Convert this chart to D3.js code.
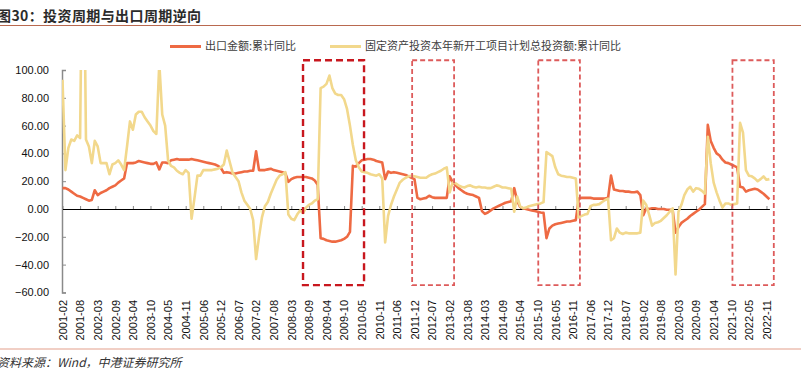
<!DOCTYPE html>
<html>
<head>
<meta charset="utf-8">
<script src="https://cdn.jsdelivr.net/npm/d3@7"></script>
<style>
  body { margin: 0; background: #fff; }
  svg { display: block; font-family: "Liberation Sans", Arial, sans-serif; }
</style>
</head>
<body>
<div id="chart"></div>
<script>
// Categories: Feb..Dec of each year (January is not published for cumulative data)
const years = [2001, 2002, 2003, 2004, 2005, 2006, 2007, 2008, 2009, 2010, 2011,
  2012, 2013, 2014, 2015, 2016, 2017, 2018, 2019, 2020, 2021, 2022];
const months = ["02", "03", "04", "05", "06", "07", "08", "09", "10", "11", "12"];
const categories = [];
years.forEach(yr => months.forEach(m => categories.push(yr + "-" + m)));

// 出口金额:累计同比
const exportYoY = [
  15, 15, 14, 12.5, 11, 9.5, 9, 8, 7, 6, 6.5,
  13.5, 10, 11.5, 12.5, 13.5, 15, 16, 17, 19, 20.5, 22,
  33, 33, 33, 33.5, 34.5, 34, 33.5, 33, 32.5, 32.5, 33.5,
  28.5, 33.5, 33.5, 33, 35, 35.5, 36, 35.5, 35.5, 35.5, 35.5,
  36, 35.5, 35, 34.5, 34, 33.5, 33, 32.5, 32, 31, 29.5,
  26, 26.5, 26, 25.5, 25.5, 26, 26.5, 27, 27, 27.5, 27.5,
  41.5, 28, 28, 28, 28.5, 29, 28, 27.5, 27, 26.5, 25.5,
  19.5, 21.5, 22.5, 23, 23, 23, 23, 22.5, 22, 20.5, 17.5,
  -21, -21.5, -22.5, -23, -23.5, -23.5, -23, -22.5, -21.5, -20, -16.5,
  31, 30.5, 33, 35, 35.5, 36, 36, 35.5, 34.5, 34, 33.5,
  21.5, 27, 26, 26.5, 26, 25.5, 25, 24.5, 23.5, 22.5, 21.5,
  8, 7, 7.5, 8, 9.5, 8.5, 8, 8, 8, 8, 8,
  23.5, 19.5, 17, 15, 13.5, 12, 11, 10.5, 10, 9, 8,
  -1.5, -3.5, -2.5, -1, 0.5, 1.5, 2.5, 3.5, 4.5, 5, 5.5,
  15, 6, 1.5, 0.5, 0, -0.5, -1, -1.5, -2, -2.5, -2.8,
  -21, -14, -12, -11, -10.5, -10, -9.5, -9, -9, -8.5, -8,
  7.5, 8, 8, 8, 8, 7.5, 7.5, 7.5, 7.5, 7.5, 8,
  24, 14, 13.5, 13, 13, 12.5, 12.5, 12, 12, 12.5, 10,
  -4.5, 0.5, 0, 0.5, 0.5, 0, 0, 0, -0.5, -0.5, -0.5,
  -17, -13, -10, -8.5, -7, -5, -3.5, -2, -0.5, 1.5, 3.5,
  60.5, 49, 44, 40, 38.5, 35.5, 33.5, 33, 32, 31, 30,
  16, 15.5, 12.5, 13.5, 14, 14.5, 14, 12.5, 11, 9, 7
];

// 固定资产投资本年新开工项目计划总投资额:累计同比
const newStartYoY = [
  93, 28, 44, 50, 49, 53, 51, 250, 50, 45, 33,
  49, 45, 33, 33, 33, 25, 32, 33, 35, 32, 28,
  45, 63, 57, 68, 70, 70, 66, 63, 60, 56, 54,
  105, 68, 60, 35, 31, 30, 27.5, 26, 25, 28, 26,
  -7, 8, 24, 24, 28, 28, 28, 28, 28.5, 29, 30,
  32, 42, 34, 26, 23, 20, 12, 6, 3, 0, -8,
  -36, -20, -6, 2, 5, 11, 16, 21, 24, 25, 26.5,
  -4, -7, -8, -4, -1, -3, 1, 3, 4, 6, 7,
  87, 88, 90, 96, 87, 83, 82, 82, 79, 72, 60,
  46, 35, 30, 27, 26.5, 26, 25, 24.5, 24, 25, 22,
  -24, -5, 3, 9, 14, 19, 21, 22.5, 23.5, 24, 23.5,
  23, 22.5, 22.5, 22.5, 24, 25, 25.5, 26.5, 27.5, 29, 30,
  12, 19, 18.5, 17, 16, 15.5, 16.5, 17, 16, 15.5, 16,
  15.5, 15.5, 15, 15, 16, 17, 16.5, 15.5, 15.5, 15, 14.5,
  -2, 9, 2, 0.5, 1, 2, 2.5, 3, 3.5, 4, 5,
  41, 39.5, 38, 30, 25, 24, 23.5, 23, 23, 22.5, 22,
  -6, -5, -4, -3.5, 2, 3, 3, 3.5, 5, 6.5, 7.5,
  -22.5, -21, -14, -17, -18, -17, -17.5, -17.5, -17.5, -17.5, -17,
  6, 3, -4, -12, -10, -9.5, -8.5, -6.5, -4.5, -2, 0.5,
  -47, -2, 3, 10, 14, 16, 12.5, 15, 14.5, 13, 11,
  52, 33, 19, 12, 6, 1, 4, 4, 3, 3.5, 4,
  62, 55, 28, 24, 23.5, 22, 20, 21.5, 23.5, 21, 21.5
];

const yTicks = [-60, -40, -20, 0, 20, 40, 60, 80, 100];
const labelStep = 6;

// highlighted periods (category index range, value range)
const boxStart = [82, 119.2, 162.2, 228.4];
const boxEnd = [102.8, 133.5, 176.4, 242.5];
const boxTop = 107;
const boxBottom = -54.8;

const seriesNames = ["出口金额:累计同比", "固定资产投资本年新开工项目计划总投资额:累计同比"];
const seriesColors = ["#ee6a43", "#f2d88c"];

const width = 801, height = 379;

const svg = d3.select("#chart").append("svg")
  .attr("width", width)
  .attr("height", height);

const x = d3.scaleLinear().domain([0, categories.length - 1]).range([62.5, 769.4]);
const y = d3.scaleLinear().domain([-60, 100]).range([292.4, 70]);

// title and rules
svg.append("text")
  .attr("x", -3).attr("y", 21)
  .style("font-family", "'Noto Sans CJK SC', sans-serif")
  .style("font-size", "14px")
  .style("font-weight", "bold")
  .style("letter-spacing", "0.4px")
  .attr("fill", "#2b2b2b")
  .text("图30：投资周期与出口周期逆向");

svg.append("line")
  .attr("x1", 0).attr("x2", width).attr("y1", 25.5).attr("y2", 25.5)
  .attr("stroke", "#b9694f").attr("stroke-width", 1.2);

svg.append("line")
  .attr("x1", 0).attr("x2", width).attr("y1", 349).attr("y2", 349)
  .attr("stroke", "#e3a08c").attr("stroke-width", 1.2);

svg.append("text")
  .attr("x", -3).attr("y", 367)
  .style("font-family", "'Noto Sans CJK SC', sans-serif")
  .style("font-size", "12px")
  .style("font-style", "italic")
  .attr("fill", "#333")
  .text("资料来源：Wind，中港证券研究所");

// legend
const legend = svg.append("g");
const legendX = [170, 330];
seriesNames.forEach((name, i) => {
  legend.append("line")
    .attr("x1", legendX[i]).attr("x2", legendX[i] + 31)
    .attr("y1", 46.5).attr("y2", 46.5)
    .attr("stroke", seriesColors[i]).attr("stroke-width", 3);
  legend.append("text")
    .attr("x", legendX[i] + 35).attr("y", 46.5)
    .attr("dy", "0.36em")
    .style("font-family", "'Noto Sans CJK SC', sans-serif")
    .style("font-size", "11px")
    .attr("fill", "#404040")
    .text(name);
});

// y axis
const yAxis = svg.append("g")
  .attr("transform", "translate(62,0)")
  .call(d3.axisLeft(y).tickValues(yTicks).tickSize(-4).tickPadding(13)
    .tickFormat(d3.format(".2f")));
yAxis.select(".domain").attr("stroke", "#8a8a8a").attr("stroke-width", 1.5);
yAxis.selectAll(".tick line").attr("stroke", "#8a8a8a");
yAxis.selectAll("text").style("font-size", "11px").attr("fill", "#111");

// x axis along zero
const labelIdx = d3.range(0, categories.length, labelStep);
const xAxis = svg.append("g")
  .attr("transform", `translate(0,${y(0)})`)
  .call(d3.axisBottom(x).tickValues(labelIdx).tickSize(-3).tickSizeOuter(0).tickFormat(""));
xAxis.select(".domain").attr("stroke", "#000").attr("stroke-width", 1);
xAxis.selectAll(".tick line").attr("stroke", "#888");

// x labels, rotated
const xLabels = svg.append("g")
  .attr("transform", "translate(0,300)")
  .call(d3.axisBottom(x).tickValues(labelIdx).tickSize(0)
    .tickFormat(i => categories[i]));
xLabels.select(".domain").remove();
xLabels.selectAll("text")
  .attr("x", 0).attr("y", 0).attr("dy", "0.35em")
  .attr("transform", "rotate(-90)")
  .attr("text-anchor", "end")
  .style("font-size", "11px")
  .attr("fill", "#111");

// lines
svg.append("clipPath").attr("id", "plot-clip")
  .append("rect")
  .attr("x", 62).attr("y", y(100))
  .attr("width", 712).attr("height", y(-60) - y(100));

const line = d3.line()
  .x((d, i) => x(i))
  .y(d => y(d));

const plot = svg.append("g").attr("clip-path", "url(#plot-clip)");
[exportYoY, newStartYoY].forEach((series, i) => {
  plot.append("path")
    .datum(series)
    .attr("d", line)
    .attr("fill", "none")
    .attr("stroke", seriesColors[i])
    .attr("stroke-width", 2.6)
    .attr("stroke-linejoin", "round");
});

// dashed highlight boxes
boxStart.forEach((s, i) => {
  svg.append("rect")
    .attr("x", x(s))
    .attr("y", y(boxTop))
    .attr("width", x(boxEnd[i]) - x(s))
    .attr("height", y(boxBottom) - y(boxTop))
    .attr("fill", "none")
    .attr("stroke", i === 0 ? "#c8171e" : "#dd5b5b")
    .attr("stroke-width", i === 0 ? 2.4 : 1.8)
    .attr("stroke-dasharray", i === 0 ? "7,4" : "5,3");
});
</script>
</body>
</html>
